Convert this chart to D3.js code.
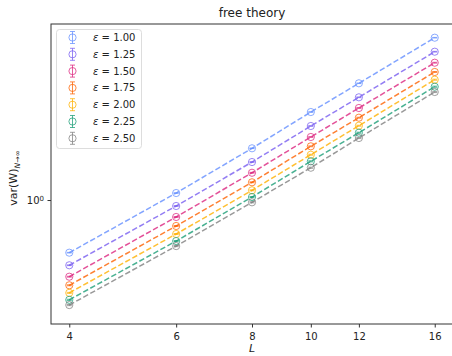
<!DOCTYPE html>
<html>
<head>
<meta charset="utf-8">
<script src="https://cdn.jsdelivr.net/npm/d3@7"></script>
<style>
  body { margin: 0; background: #fff; }
  text { font-family: "DejaVu Sans", sans-serif; fill: #222; }
</style>
</head>
<body>
<div id="chart"></div>
<script>
// lattice sizes
const Ls = [4, 6, 8, 10, 12, 16];
const xTicks = [4, 6, 8, 10, 12, 16];
const yTicks = [1];

const epsLabels = ["1.00", "1.25", "1.50", "1.75", "2.00", "2.25", "2.50"];
const colors = ["#648FFF", "#785EF0", "#DC267F", "#FE6100", "#FFB000", "#1B9E77", "#808080"];

// var(W), one array per epsilon
const eps100 = [0.508, 1.094, 1.945, 3.101, 4.487, 8.066];
const eps125 = [0.432, 0.926, 1.630, 2.591, 3.747, 6.737];
const eps150 = [0.373, 0.804, 1.420, 2.249, 3.266, 5.848];
const eps175 = [0.334, 0.716, 1.256, 1.995, 2.883, 5.190];
const eps200 = [0.303, 0.646, 1.133, 1.791, 2.601, 4.700];
const eps225 = [0.277, 0.590, 1.039, 1.645, 2.377, 4.295];
const eps250 = [0.259, 0.553, 0.971, 1.515, 2.220, 4.012];
const series = [eps100, eps125, eps150, eps175, eps200, eps225, eps250];

// statistical errors (tiny, hidden inside the markers)
const errs = [0.002, 0.004, 0.007, 0.011, 0.016, 0.03];

const W = 452, H = 356;
const margin = { top: 24, right: -1, bottom: 32, left: 51 };
const width = W - margin.left - margin.right;
const height = H - margin.top - margin.bottom;

const svg = d3.select("#chart").append("svg")
  .attr("width", W)
  .attr("height", H);

const g = svg.append("g")
  .attr("transform", `translate(${margin.left},${margin.top})`);

// log axes with matplotlib-like 5% margins
const xr = 16 / 4;
const x = d3.scaleLog()
  .domain([4 / Math.pow(xr, 0.05), 16 * Math.pow(xr, 0.05)])
  .range([0, width]);

const y = d3.scaleLog()
  .domain([0.203, 9.62])
  .range([height, 0]);

// lines
const line = d3.line()
  .x((d, i) => x(Ls[i]))
  .y(d => y(d));

series.forEach((vals, k) => {
  g.append("path")
    .datum(vals)
    .attr("fill", "none")
    .attr("stroke", colors[k])
    .attr("stroke-opacity", 0.8)
    .attr("stroke-width", 1.5)
    .attr("stroke-dasharray", "5.5,2.5")
    .attr("d", line);
});

// error bars + open markers
series.forEach((vals, k) => {
  const pts = g.append("g")
    .attr("stroke", colors[k])
    .attr("stroke-opacity", 0.75)
    .attr("fill", "none");
  vals.forEach((v, i) => {
    const cx = x(Ls[i]);
    const lo = y(v - errs[i]), hi = y(v + errs[i]);
    pts.append("line").attr("x1", cx).attr("x2", cx).attr("y1", lo).attr("y2", hi).attr("stroke-width", 1);
    [lo, hi].forEach(yy => pts.append("line")
      .attr("x1", cx - 2.5).attr("x2", cx + 2.5).attr("y1", yy).attr("y2", yy).attr("stroke-width", 1));
    pts.append("circle").attr("cx", cx).attr("cy", y(v)).attr("r", 3.6).attr("stroke-width", 1);
  });
});

// axes
const xAxis = g.append("g")
  .attr("transform", `translate(0,${height})`)
  .call(d3.axisBottom(x).tickValues(xTicks).tickFormat(d3.format("d")).tickSizeOuter(0).tickSize(3.5));
xAxis.selectAll("text").attr("font-size", 10).attr("dy", "0.9em");

const yAxis = g.append("g")
  .call(d3.axisLeft(y).tickValues(yTicks).tickFormat("").tickSizeOuter(0).tickSize(3.5));
yAxis.selectAll(".tick").append("text")
  .attr("x", -7).attr("dy", "0.32em")
  .attr("text-anchor", "end")
  .attr("font-size", 10)
  .attr("fill", "#222")
  .html('10<tspan dy="-0.45em" font-size="7">0</tspan>');

g.selectAll(".domain").remove();
g.selectAll(".tick line").attr("stroke", "#333");

// frame
g.append("rect")
  .attr("width", width).attr("height", height)
  .attr("fill", "none").attr("stroke", "#333").attr("stroke-width", 1);

// title and labels
svg.append("text")
  .attr("x", margin.left + width / 2).attr("y", 17)
  .attr("text-anchor", "middle").attr("font-size", 12)
  .text("free theory");

svg.append("text")
  .attr("x", margin.left + width / 2).attr("y", 352)
  .attr("text-anchor", "middle").attr("font-size", 11)
  .attr("font-style", "italic")
  .text("L");

svg.append("text")
  .attr("transform", `translate(17,${margin.top + height / 2 + 4}) rotate(-90)`)
  .attr("text-anchor", "middle").attr("font-size", 11)
  .html('var(W)<tspan dy="0.35em" font-size="7.5" font-style="italic">N</tspan><tspan font-size="7.5">→∞</tspan>');

// legend
const leg = svg.append("g").attr("transform", "translate(56.5,29.5)");
leg.append("rect")
  .attr("width", 85).attr("height", 119).attr("rx", 3)
  .attr("fill", "#fff").attr("fill-opacity", 0.8)
  .attr("stroke", "#ddd").attr("stroke-width", 1);

epsLabels.forEach((lab, k) => {
  const yy = 8 + k * 16.8;
  const item = leg.append("g").attr("transform", `translate(16,${yy})`);
  const gl = item.append("g").attr("stroke", colors[k]).attr("stroke-opacity", 0.75).attr("fill", "none");
  gl.append("line").attr("y1", -6).attr("y2", 6);
  gl.append("line").attr("x1", -2.5).attr("x2", 2.5).attr("y1", -6).attr("y2", -6);
  gl.append("line").attr("x1", -2.5).attr("x2", 2.5).attr("y1", 6).attr("y2", 6);
  gl.append("circle").attr("r", 3.6);
  item.append("text")
    .attr("x", 20.5).attr("dy", "0.35em")
    .attr("font-size", 10)
    .html(`<tspan font-style="italic">ε</tspan> = ${lab}`);
});
</script>
</body>
</html>
